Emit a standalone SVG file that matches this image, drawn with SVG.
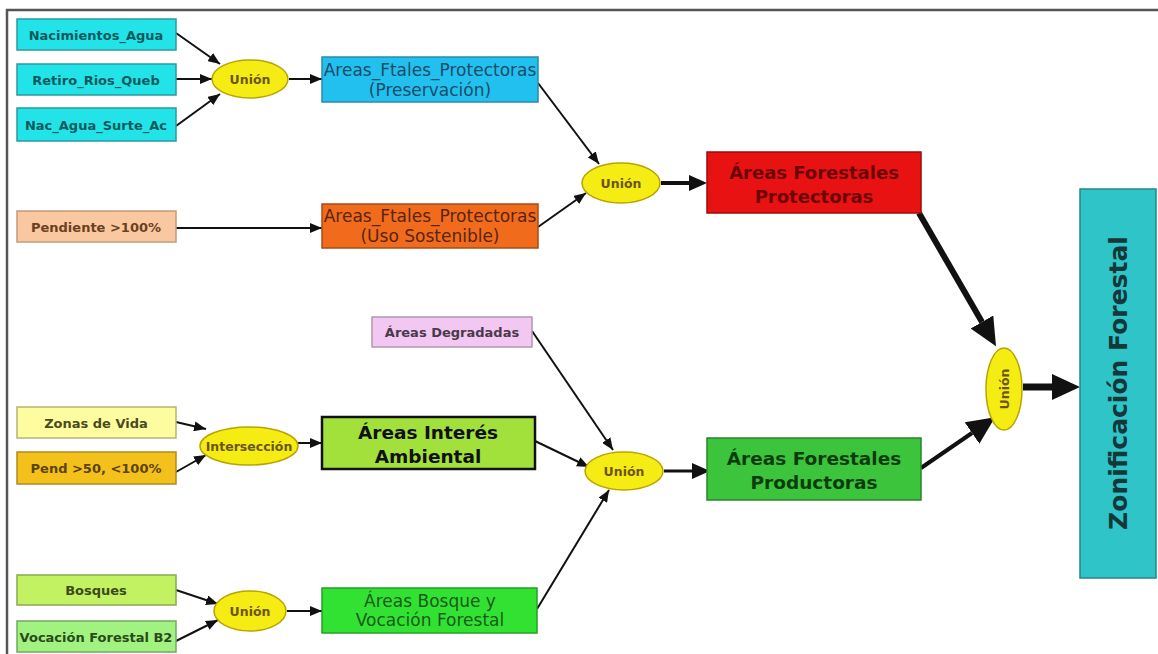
<svg xmlns="http://www.w3.org/2000/svg" width="1158" height="654" viewBox="0 0 1158 654">
  <style>
    .box { stroke-width: 1.5; }
    .lbl { font-family: "DejaVu Sans", "Liberation Sans", sans-serif; font-weight: bold; font-size: 13px; text-anchor: middle; dominant-baseline: central; }
    .mid { font-family: "DejaVu Sans", "Liberation Sans", sans-serif; font-size: 17px; text-anchor: middle; dominant-baseline: central; }
    .big { font-family: "DejaVu Sans", "Liberation Sans", sans-serif; font-weight: bold; text-anchor: middle; dominant-baseline: central; }
    .op { fill: #f4ec12; stroke: #b8a400; stroke-width: 1.5; }
    .optext { font-family: "DejaVu Sans", "Liberation Sans", sans-serif; font-weight: bold; font-size: 12.5px; fill: #6a5610; text-anchor: middle; dominant-baseline: central; }
    .thin { stroke: #111; stroke-width: 2; fill: none; }
    .frame { stroke: #555; stroke-width: 2.5; fill: none; }
  </style>
  <defs>
    <marker id="ah" markerUnits="userSpaceOnUse" markerWidth="12" markerHeight="10" refX="12" refY="5" orient="auto">
      <path d="M0,0 L12,5 L0,10 z" fill="#111"/>
    </marker>
    <marker id="ahMid" markerUnits="userSpaceOnUse" markerWidth="18" markerHeight="16" refX="0" refY="8" orient="auto">
      <path d="M0,0 L18,8 L0,16 z" fill="#111"/>
    </marker>
    <marker id="ahBig" markerUnits="userSpaceOnUse" markerWidth="28" markerHeight="26" refX="0" refY="13" orient="auto">
      <path d="M0,0 L28,13 L0,26 z" fill="#111"/>
    </marker>
  </defs>

  <rect width="1158" height="654" fill="#ffffff"/>
  <!-- frame -->
  <path class="frame" d="M7,654 L7,10 L1158,10"/>

  <!-- connectors -->
  <g id="connectors">
    <line class="thin" x1="176" y1="33" x2="220" y2="64" marker-end="url(#ah)"/>
    <line class="thin" x1="176" y1="79" x2="212" y2="79" marker-end="url(#ah)"/>
    <line class="thin" x1="176" y1="126" x2="220" y2="94" marker-end="url(#ah)"/>
    <line class="thin" x1="289" y1="79" x2="322" y2="79" marker-end="url(#ah)"/>
    <line class="thin" x1="538" y1="83" x2="599" y2="164" marker-end="url(#ah)"/>
    <line class="thin" x1="176" y1="228" x2="322" y2="228" marker-end="url(#ah)"/>
    <line class="thin" x1="538" y1="227" x2="586" y2="193" marker-end="url(#ah)"/>
    <line x1="661" y1="183" x2="689" y2="183" stroke="#111" stroke-width="4" marker-end="url(#ahMid)"/>
    <line x1="919" y1="213" x2="982" y2="322" stroke="#111" stroke-width="6" marker-end="url(#ahBig)"/>
    <line x1="921" y1="468" x2="972" y2="433" stroke="#111" stroke-width="4" marker-end="url(#ahBig)"/>
    <line x1="1023" y1="387" x2="1052" y2="387" stroke="#111" stroke-width="7" marker-end="url(#ahBig)"/>

    <line class="thin" x1="532" y1="331" x2="613" y2="450" marker-end="url(#ah)"/>
    <line class="thin" x1="535" y1="441" x2="589" y2="467" marker-end="url(#ah)"/>
    <line class="thin" x1="537" y1="609" x2="609" y2="490" marker-end="url(#ah)"/>
    <line x1="664" y1="471" x2="692" y2="471" stroke="#111" stroke-width="3" marker-end="url(#ahMid)"/>

    <line class="thin" x1="176" y1="422" x2="206" y2="429" marker-end="url(#ah)"/>
    <line class="thin" x1="176" y1="472" x2="206" y2="455" marker-end="url(#ah)"/>
    <line class="thin" x1="298" y1="443" x2="322" y2="443" marker-end="url(#ah)"/>

    <line class="thin" x1="176" y1="590" x2="218" y2="604" marker-end="url(#ah)"/>
    <line class="thin" x1="176" y1="641" x2="218" y2="620" marker-end="url(#ah)"/>
    <line class="thin" x1="287" y1="611" x2="322" y2="611" marker-end="url(#ah)"/>
  </g>

  <!-- upper branch: protective areas -->
  <g id="nacimientos-agua">
    <rect class="box" x="17" y="19" width="159" height="31" fill="#22e4e8" stroke="#2a9a9c"/>
    <text class="lbl" x="96" y="35" fill="#0d5a5c">Nacimientos_Agua</text>
  </g>
  <g id="retiro-rios">
    <rect class="box" x="17" y="64" width="159" height="31" fill="#22e4e8" stroke="#2a9a9c"/>
    <text class="lbl" x="96" y="80" fill="#0d5a5c">Retiro_Rios_Queb</text>
  </g>
  <g id="nac-agua-surte">
    <rect class="box" x="17" y="108" width="159" height="33" fill="#22e4e8" stroke="#2a9a9c"/>
    <text class="lbl" x="96" y="125" fill="#0d5a5c" font-size="13.5">Nac_Agua_Surte_Ac</text>
  </g>
  <g id="union-1">
    <ellipse class="op" cx="250" cy="79" rx="38" ry="19"/>
    <text class="optext" x="250" y="79">Unión</text>
  </g>
  <g id="preservacion">
    <rect class="box" x="322" y="57" width="216" height="45" fill="#22c0ee" stroke="#2a8aa8"/>
    <text class="mid" x="430" y="70" fill="#1b4c6a">Areas_Ftales_Protectoras</text>
    <text class="mid" x="430" y="90" fill="#1b4c6a">(Preservación)</text>
  </g>
  <g id="pendiente-100">
    <rect class="box" x="17" y="211" width="159" height="31" fill="#fac8a0" stroke="#c09a7a"/>
    <text class="lbl" x="96" y="227" fill="#6a4020">Pendiente &gt;100%</text>
  </g>
  <g id="uso-sostenible">
    <rect class="box" x="322" y="204" width="216" height="44" fill="#f06c1c" stroke="#a84c14"/>
    <text class="mid" x="430" y="216" fill="#5a2410">Areas_Ftales_Protectoras</text>
    <text class="mid" x="430" y="236" fill="#5a2410">(Uso Sostenible)</text>
  </g>
  <g id="union-2">
    <ellipse class="op" cx="621" cy="183" rx="39" ry="20"/>
    <text class="optext" x="621" y="183">Unión</text>
  </g>
  <g id="forestales-protectoras">
    <rect class="box" x="707" y="152" width="214" height="61" fill="#e81212" stroke="#9c0c0c"/>
    <text class="big" x="814" y="172" font-size="18" fill="#6c0606">Áreas Forestales</text>
    <text class="big" x="814" y="196" font-size="18" fill="#6c0606">Protectoras</text>
  </g>

  <!-- lower branch: productive areas -->
  <g id="areas-degradadas">
    <rect class="box" x="372" y="317" width="160" height="30" fill="#f2c8f2" stroke="#b098b0"/>
    <text class="lbl" x="452" y="332" fill="#4a3a4a" font-size="12">Áreas Degradadas</text>
  </g>
  <g id="zonas-vida">
    <rect class="box" x="17" y="407" width="159" height="31" fill="#fdfda0" stroke="#b4b478"/>
    <text class="lbl" x="96" y="423" fill="#4a4a20" font-size="12.5">Zonas de Vida</text>
  </g>
  <g id="pend-50-100">
    <rect class="box" x="17" y="452" width="159" height="32" fill="#f4c01c" stroke="#b08c1a"/>
    <text class="lbl" x="96" y="468" fill="#5a4410">Pend &gt;50, &lt;100%</text>
  </g>
  <g id="interseccion">
    <ellipse class="op" cx="249" cy="446" rx="49" ry="19"/>
    <text class="optext" x="249" y="446" font-size="12">Intersección</text>
  </g>
  <g id="interes-ambiental">
    <rect x="322" y="417" width="213" height="52" fill="#a2e03c" stroke="#111" stroke-width="2.5"/>
    <text class="big" x="428" y="432" font-size="18.5" fill="#111">Áreas Interés</text>
    <text class="big" x="428" y="456" font-size="18.5" fill="#111">Ambiental</text>
  </g>
  <g id="union-4">
    <ellipse class="op" cx="624" cy="471" rx="39" ry="19"/>
    <text class="optext" x="624" y="471">Unión</text>
  </g>
  <g id="forestales-productoras">
    <rect class="box" x="707" y="438" width="214" height="62" fill="#3cc43c" stroke="#2a842a"/>
    <text class="big" x="814" y="458" font-size="18.5" fill="#0c3c0c">Áreas Forestales</text>
    <text class="big" x="814" y="482" font-size="18.5" fill="#0c3c0c">Productoras</text>
  </g>
  <g id="bosques">
    <rect class="box" x="17" y="575" width="159" height="30" fill="#c2f262" stroke="#88aa50"/>
    <text class="lbl" x="96" y="590" fill="#3a4a1a" font-size="12.7">Bosques</text>
  </g>
  <g id="vocacion-b2">
    <rect class="box" x="17" y="621" width="159" height="31" fill="#a2f282" stroke="#70aa60"/>
    <text class="lbl" x="96" y="637" fill="#2a4a1a" font-size="13.3">Vocación Forestal B2</text>
  </g>
  <g id="union-5">
    <ellipse class="op" cx="250" cy="611" rx="36" ry="20"/>
    <text class="optext" x="250" y="611">Unión</text>
  </g>
  <g id="bosque-vocacion">
    <rect class="box" x="322" y="588" width="215" height="45" fill="#32e232" stroke="#24a024"/>
    <text class="mid" x="430" y="601" fill="#1a5a1a" font-size="15.5">Áreas Bosque y</text>
    <text class="mid" x="430" y="620" fill="#1a5a1a" font-size="15.5">Vocación Forestal</text>
  </g>

  <!-- final merge -->
  <g id="union-3">
    <ellipse class="op" cx="1004" cy="389" rx="18" ry="41"/>
    <text class="optext" x="1004" y="389" font-size="10" transform="rotate(-90 1004 389)">Unión</text>
  </g>
  <g id="zonificacion">
    <rect class="box" x="1080" y="189" width="76" height="389" fill="#2ec4c8" stroke="#20888a"/>
    <text class="big" x="1118" y="383" font-size="25" fill="#14383a" transform="rotate(-90 1118 383)">Zonificación Forestal</text>
  </g>
</svg>
